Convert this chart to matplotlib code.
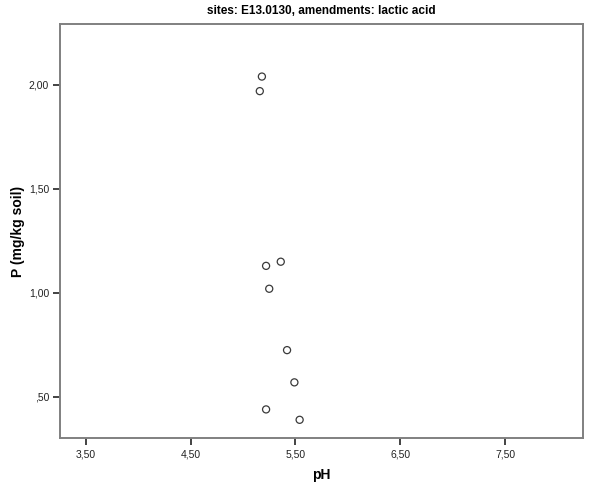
import matplotlib
matplotlib.use("Agg")
import matplotlib.pyplot as plt

# datos (pH vs P)
ph = [5.18, 5.16, 5.36, 5.22, 5.25, 5.42, 5.49, 5.22, 5.54]
p_soil = [2.04, 1.97, 1.15, 1.13, 1.02, 0.725, 0.57, 0.44, 0.39]

x_ticks = [3.5, 4.5, 5.5, 6.5, 7.5]
x_labels = ["3,50", "4,50", "5,50", "6,50", "7,50"]
y_ticks = [0.5, 1.0, 1.5, 2.0]
y_labels = [",50", "1,00", "1,50", "2,00"]

plt.rcParams['font.family'] = ['Liberation Sans', 'DejaVu Sans']

fig = plt.figure(figsize=(5.89, 4.83), dpi=100)
ax = fig.add_axes([0.102, 0.0925, 0.888, 0.8575])

ax.scatter(ph, p_soil, s=26, facecolors='none', edgecolors='#3a3a3a', linewidths=0.9, zorder=3)

ax.set_xlim(3.255, 8.244)
ax.set_ylim(0.301, 2.292)
ax.set_xticks(x_ticks)
ax.set_xticklabels(x_labels)
ax.set_yticks(y_ticks)
ax.set_yticklabels(y_labels)
ax.tick_params(axis='both', direction='out', labelsize=7.5, length=5, width=1.2,
               color='#222222', labelcolor='#222222', pad=3)

for s in ax.spines.values():
    s.set_color('#808080')
    s.set_linewidth(1.4)

ax.set_title("sites: E13.0130, amendments: lactic acid", fontsize=8.5, fontweight='bold', pad=7)
ax.set_xlabel("pH", fontsize=10, fontweight='bold', labelpad=6)
ax.set_ylabel("P (mg/kg soil)", fontsize=10, fontweight='bold', labelpad=3)

plt.savefig("out.png", dpi=100)
